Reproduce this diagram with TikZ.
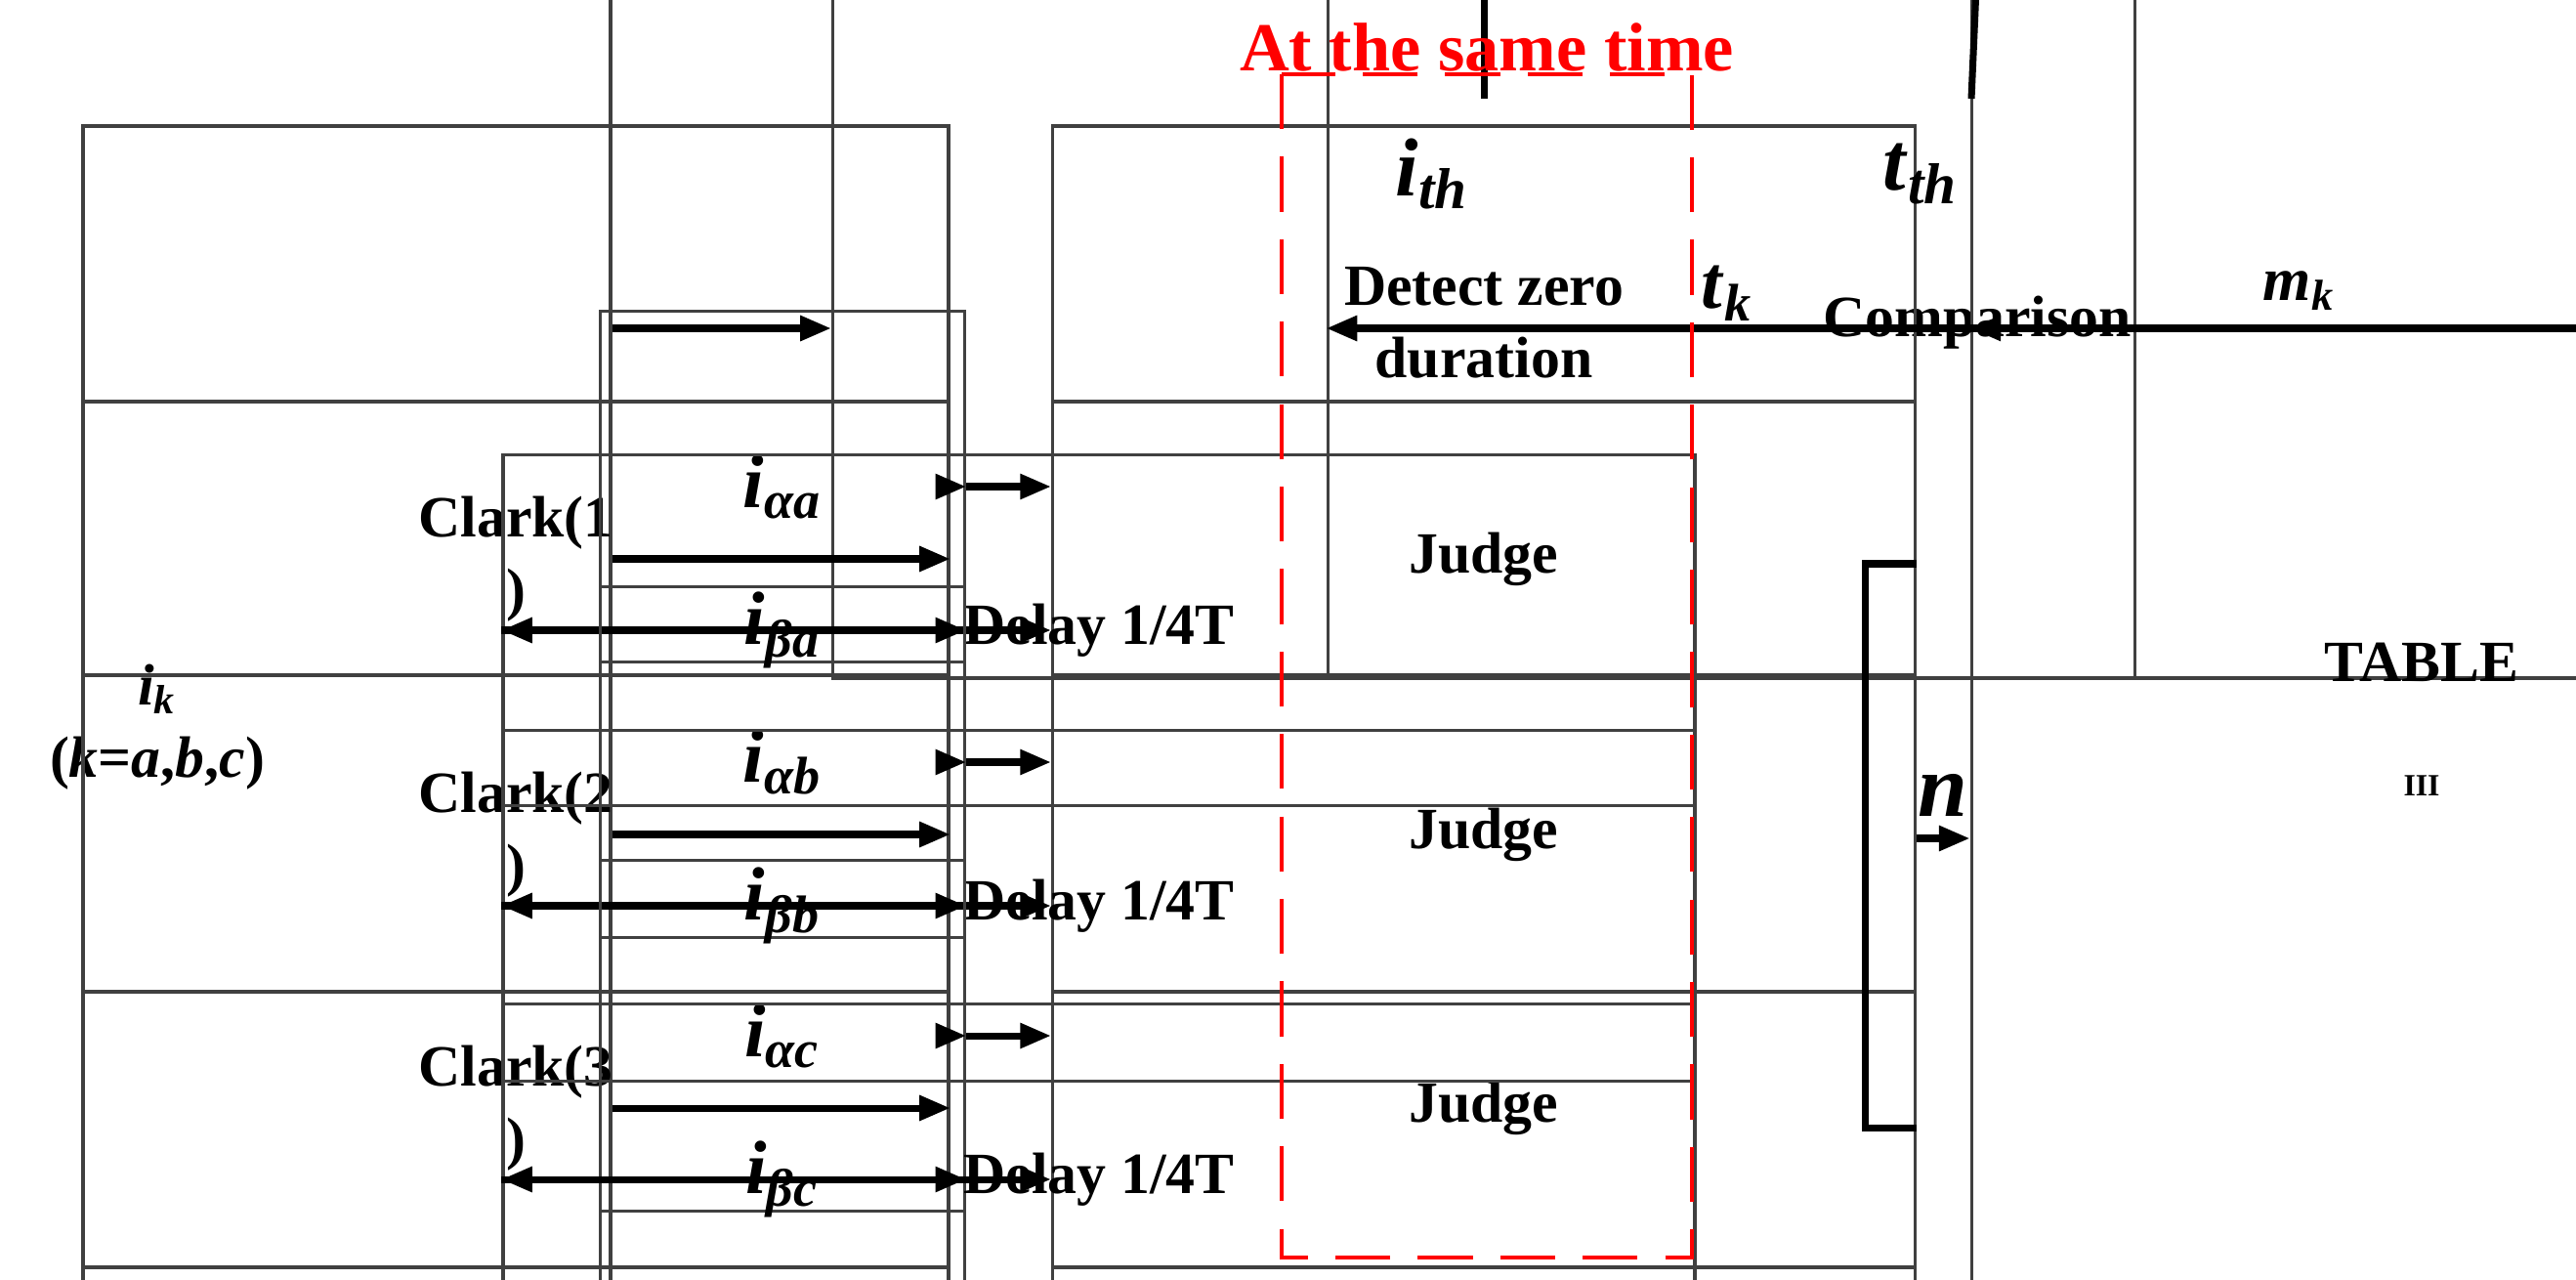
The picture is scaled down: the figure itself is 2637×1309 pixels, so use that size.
\documentclass[tikz,border=0pt]{standalone}
\usepackage{fontspec}
\setmainfont{Liberation Serif}
\usetikzlibrary{arrows.meta}
\newcommand{\bi}[1]{\textbf{\textit{#1}}}
\newcommand{\sgn}[2]{\bi{#1}\textsubscript{\bi{#2}}}
\tikzset{>={Triangle[length=9pt,width=7pt]}}
\tikzset{blk/.style={draw=black!75,line width=1pt,inner sep=0pt,align=center,font=\bfseries\fontsize{17}{21}\selectfont},
  sig/.style={->,line width=2pt},
  bus/.style={line width=2pt}}

\begin{document}
\begin{tikzpicture}[x=0.01cm,y=-0.01cm]
\useasboundingbox (0,0) rectangle (2637,1309);

% blocks
\node[blk,minimum width=264,minimum height=1034] (ik) at (161,744) {\sgn{i}{k}\\(\bi{k}=\bi{a},\bi{b},\bi{c})};
\node[blk,minimum width=379,minimum height=207] (det) at (1519,330) {Detect zero\\duration};
\node[blk,minimum width=378,minimum height=207] (cmp) at (2024,330) {Comparison};
\node[blk,minimum width=262,minimum height=1034] (tab) at (2479,744) {};
\node[blk,draw=none] (tabtxt) at (2479,678) {TABLE};
\node[blk,draw=none,font=\bfseries\small] (tabnum) at (2479,804) {III};

\foreach \n/\y in {1/572,2/854,3/1134}{
  \node[blk,minimum width=252,minimum height=252] (clk\n) at (528,\y) {Clark(\n\\)};
  \node[blk,minimum width=251,minimum height=252] (jdg\n) at (1519,\y) {Judge};
}
\foreach \s/\y/\d in {a/572/1,b/854/2,c/1134/3}{
  \node[blk,minimum width=106,minimum height=102,font=\fontsize{22}{26}\selectfont] (ia\s) at (801,\y-74) {\sgn{i}{α\s}};
  \node[blk,minimum width=106,minimum height=102,font=\fontsize{22}{26}\selectfont] (ib\s) at (801,\y+73) {\sgn{i}{β\s}};
  \node[blk,minimum width=347,minimum height=102] (dly\s) at (1125,\y+73) {Delay 1/4T};
  \draw[sig] (clk\d.east |- ia\s) -- (ia\s);
  \draw[sig] (clk\d.east |- ib\s) -- (ib\s);
  \draw[sig] (ib\s) -- (dly\s);
  \draw[sig] (ia\s) -- (jdg\d.west |- ia\s);
  \draw[sig] (dly\s) -- (jdg\d.west |- dly\s);
  \draw[sig] (ik.east |- clk\d) -- (clk\d);
}

% top path
\draw[sig] (ik.east |- 0,336) -- (det.west |- 0,336);
\draw[sig] (det.east |- 0,336) -- (cmp.west |- 0,336);
\node[font=\fontsize{22}{26}\selectfont] (tk) at (1768,300) {\sgn{t}{k}};
\draw[sig] (cmp.east |- 0,336) -- node[above=1pt,font=\fontsize{18}{22}\selectfont] (mk) {\sgn{m}{k}} (tab.west |- 0,336);
\coordinate (ith) at (1519,101);
\coordinate (tth) at (2018,101);
\draw[sig] (ith) -- (det.north);
\draw[sig] (tth) -- (cmp.north);
\node[font=\fontsize{24}{28}\selectfont] (ithl) at (1466,178) {\sgn{i}{th}};
\node[font=\fontsize{24}{28}\selectfont] (tthl) at (1966,178) {\sgn{t}{th}};

% judge bus
\coordinate (bx) at (1909,858);
\draw[bus] (jdg1.east |- 0,577) -- (bx |- 0,577) -- (bx |- 0,1154) -- (jdg3.east |- 0,1154);
\draw[sig] (jdg2.east |- bx) -- node[above=2pt,font=\fontsize{26}{30}\selectfont] (nl) {\bi{n}} (tab.west |- bx);

% same time window
\draw[red,dashed,line width=1.2pt,dash pattern=on 16pt off 8pt] (1312,76) rectangle (1732,1287);
\node[red,font=\bfseries\fontsize{20}{24}\selectfont] (same) at (1522,48) {At the same time};
\end{tikzpicture}
\end{document}
